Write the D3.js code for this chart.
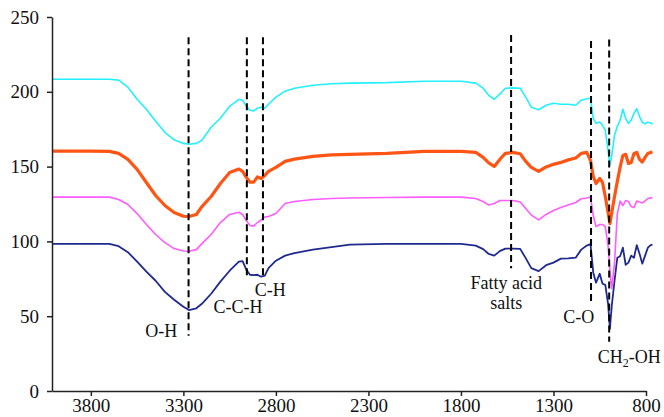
<!DOCTYPE html>
<html>

<head>
  <meta http-equiv="Content-Type" content="text/html;charset=utf-8">
  <title>FTIR spectra</title>
  <script src="https://d3js.org/d3.v7.min.js"></script>
  <style>
    html,
    body {
      margin: 0;
      padding: 0;
      background: #fff;
    }

    .axis path,
    .axis line {
      stroke: #222;
      stroke-width: 1.5px;
    }

    .axis text {
      font-family: "Liberation Serif", "Times New Roman", serif;
      font-size: 19px;
      fill: #111;
    }

    .spectrum {
      fill: none;
      stroke-linejoin: round;
    }

    .band {
      stroke: #000;
      stroke-width: 2px;
      stroke-dasharray: 7 4;
    }

    .band-label {
      font-family: "Liberation Serif", "Times New Roman", serif;
      font-size: 18px;
      fill: #111;
      text-anchor: middle;
    }
  </style>
</head>

<body>

  <script type="text/javascript">

    // wavenumber (cm-1) of every sample, shared by the four spectra
    var wavenumbers = [4010, 3800, 3700, 3650, 3600, 3550, 3500, 3450, 3400, 3350,
      3300, 3270, 3230, 3200, 3150, 3100, 3050, 3000, 2980, 2960,
      2940, 2920, 2900, 2880, 2860, 2840, 2800, 2750, 2700, 2600,
      2500, 2400, 2200, 2000, 1800, 1720, 1680, 1650, 1620, 1590,
      1560, 1520, 1480, 1450, 1420, 1380, 1340, 1300, 1260, 1220,
      1180, 1150, 1120, 1100, 1085, 1070, 1050, 1035, 1020, 1005,
      995, 985, 970, 955, 940, 925, 910, 895, 880, 865,
      850, 835, 820, 805, 790, 775, 765];

    var cyanSeries = [208.4, 208.4, 208.4, 207.8, 203.1, 195.0, 188.3, 180.3, 172.9, 167.9,
      165.5, 164.9, 165.5, 167.6, 176.3, 182.3, 190.3, 195.0, 194.4, 190.3,
      187.7, 187.2, 189.0, 189.7, 189.0, 191.7, 196.4, 200.4, 202.4, 204.4,
      205.4, 205.8, 206.1, 207.1, 207.1, 205.8, 202.4, 197.7, 195.0, 198.4,
      202.4, 202.6, 202.4, 196.4, 189.7, 188.0, 191.0, 192.3, 191.7, 191.7,
      191.0, 194.4, 195.4, 195.7, 182.3, 178.9, 179.8, 177.6, 174.3, 160.8,
      150.8, 157.5, 170.9, 176.9, 181.0, 188.3, 182.3, 178.9, 181.0, 185.6,
      188.7, 183.6, 179.6, 178.6, 179.6, 179.3, 178.3];

    var orangeSeries = [160.4, 160.4, 160.2, 158.8, 154.8, 148.1, 139.4, 130.7, 124.0, 119.3,
      116.8, 116.6, 118.0, 123.3, 130.0, 138.7, 146.1, 148.4, 146.8, 142.8,
      139.6, 139.6, 143.1, 142.1, 144.1, 146.8, 149.5, 153.5, 155.0, 156.8,
      157.8, 158.2, 158.8, 160.2, 160.2, 159.5, 156.2, 152.5, 150.1, 154.8,
      158.8, 159.5, 158.6, 153.5, 149.5, 146.8, 149.8, 151.5, 152.8, 154.5,
      155.8, 158.8, 159.5, 154.1, 143.4, 138.7, 142.1, 139.4, 130.0, 119.3,
      111.9, 119.3, 130.0, 140.1, 149.5, 157.5, 158.2, 152.1, 152.8, 158.8,
      159.5, 154.8, 153.1, 156.2, 158.8, 159.5, 159.7];

    var pinkSeries = [129.6, 129.6, 129.6, 128.0, 124.7, 118.6, 111.3, 104.6, 99.2, 95.2,
      93.6, 93.4, 94.5, 98.5, 104.6, 112.6, 118.0, 119.5, 118.0, 113.9,
      110.6, 110.2, 112.6, 114.3, 116.3, 116.6, 118.6, 125.3, 126.7, 128.0,
      128.7, 129.0, 129.3, 129.6, 129.6, 128.7, 126.7, 124.3, 125.3, 127.3,
      127.3, 127.3, 126.3, 122.0, 117.6, 114.4, 118.0, 120.6, 122.6, 124.3,
      126.0, 128.5, 129.0, 129.7, 117.3, 109.9, 111.3, 111.3, 109.9, 97.2,
      80.4, 68.4, 85.8, 118.6, 127.0, 124.0, 127.3, 126.7, 123.3, 122.6,
      127.0, 126.3, 125.7, 127.0, 128.7, 129.1, 129.0];

    var navySeries = [98.3, 98.3, 98.3, 96.8, 92.8, 86.5, 79.8, 73.7, 66.3, 61.0,
      56.3, 54.1, 55.3, 58.3, 65.0, 73.1, 80.4, 86.5, 86.8, 81.1,
      77.7, 77.4, 77.7, 76.4, 77.1, 82.1, 87.1, 90.5, 92.2, 94.5,
      96.2, 97.8, 98.3, 98.3, 98.3, 97.2, 94.8, 91.6, 90.5, 93.5,
      95.2, 95.2, 95.0, 88.8, 82.1, 80.1, 84.1, 85.8, 88.5, 88.6,
      89.1, 94.5, 97.2, 98.2, 79.1, 72.4, 78.4, 71.7, 71.0, 58.3,
      41.6, 57.0, 73.7, 89.1, 90.1, 95.8, 84.4, 85.8, 90.5, 89.1,
      97.5, 91.8, 85.1, 90.5, 95.8, 97.5, 97.8];

    var xTicks = [3800, 3300, 2800, 2300, 1800, 1300, 800];
    var yTicks = [0, 50, 100, 150, 200, 250];

    // dashed band markers: wavenumber, top and bottom value
    var bandWavenumbers = [3272, 2957, 2870, 1529, 1097, 999];
    var bandTops = [236.5, 236.5, 236.5, 238, 234, 235];
    var bandBottoms = [37, 75, 77.5, 82, 60, 33];

    // band names, placed at wavenumber / value of their baseline
    var labelTexts = ["O-H", "C-C-H", "C-H", "Fatty acid", "salts", "C-O"];
    var labelWavenumbers = [3420, 3005, 2831, 1555, 1555, 1163];
    var labelValues = [36, 52, 63.5, 68, 55, 45.3];

    var width = 664, height = 417;

    var x = d3.scaleLinear().domain([4010, 800]).range([52, 646]);
    var y = d3.scaleLinear().domain([0, 250]).range([391, 17]);

    var svg = d3.select("body").append("svg")
      .attr("width", width)
      .attr("height", height);

    svg.append("rect")
      .attr("width", width)
      .attr("height", height)
      .attr("fill", "#fff");

    var line = d3.line()
      .x(function (d, i) { return x(wavenumbers[i]); })
      .y(function (d) { return y(d); });

    var spectra = [
      { values: navySeries, color: "#1f2a8e", width: 1.8 },
      { values: pinkSeries, color: "#ff5cff", width: 1.6 },
      { values: orangeSeries, color: "#ff5514", width: 3.2 },
      { values: cyanSeries, color: "#22f0ff", width: 1.6 }
    ];

    svg.selectAll(".spectrum")
      .data(spectra)
      .enter().append("path")
      .attr("class", "spectrum")
      .attr("stroke", function (d) { return d.color; })
      .attr("stroke-width", function (d) { return d.width; })
      .attr("d", function (d) { return line(d.values); });

    svg.append("g")
      .attr("class", "axis")
      .attr("transform", "translate(0," + y(0) + ")")
      .call(d3.axisBottom(x).tickValues(xTicks).tickSize(5).tickSizeOuter(0).tickPadding(3).tickFormat(d3.format("d")));

    svg.append("g")
      .attr("class", "axis")
      .attr("transform", "translate(" + x(4010) + ",0)")
      .call(d3.axisLeft(y).tickValues(yTicks).tickSize(5).tickSizeOuter(0).tickPadding(8));

    svg.selectAll(".band")
      .data(bandWavenumbers)
      .enter().append("line")
      .attr("class", "band")
      .attr("x1", function (d) { return x(d); })
      .attr("x2", function (d) { return x(d); })
      .attr("y1", function (d, i) { return y(bandTops[i]); })
      .attr("y2", function (d, i) { return y(bandBottoms[i]); });

    svg.selectAll(".band-label")
      .data(labelTexts)
      .enter().append("text")
      .attr("class", "band-label")
      .attr("x", function (d, i) { return x(labelWavenumbers[i]); })
      .attr("y", function (d, i) { return y(labelValues[i]); })
      .text(function (d) { return d; });

    // CH2-OH needs a subscript
    var ch2 = svg.append("text")
      .attr("class", "band-label")
      .attr("x", x(890))
      .attr("y", y(18.5));
    ch2.append("tspan").text("CH");
    ch2.append("tspan").attr("font-size", "12px").attr("dy", 4).text("2");
    ch2.append("tspan").attr("dy", -4).text("-OH");

  </script>
</body>

</html>
